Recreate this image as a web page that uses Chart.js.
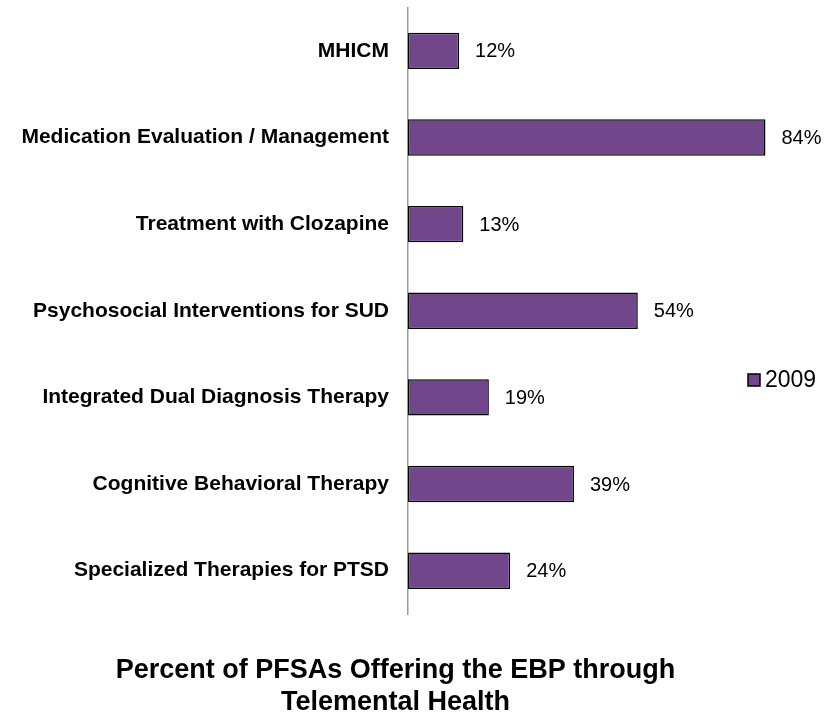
<!DOCTYPE html>
<html>
<head>
<meta charset="utf-8">
<script src="https://cdn.jsdelivr.net/npm/chart.js@4"></script>
<style>
  html, body { margin: 0; padding: 0; background: #fff; }
  #wrap { width: 824px; height: 719px; }
</style>
</head>
<body>
<div id="wrap"><canvas id="bar-chart" width="824" height="719"></canvas></div>
<script>
// data
const categories = [
    'MHICM',
    'Medication Evaluation / Management',
    'Treatment with Clozapine',
    'Psychosocial Interventions for SUD',
    'Integrated Dual Diagnosis Therapy',
    'Cognitive Behavioral Therapy',
    'Specialized Therapies for PTSD'
];
const values2009 = [12, 84, 13, 54, 19, 39, 24];
const seriesName = '2009';
const titleLines = ['Percent of PFSAs Offering the EBP through', 'Telemental Health'];

const barColor = '#71468b';
const fontFamily = '"Liberation Sans", Arial, sans-serif';

// value labels to the right of each bar
const valueLabels = {
    id: 'valueLabels',
    afterDatasetsDraw(chart) {
        const ctx = chart.ctx;
        const meta = chart.getDatasetMeta(0);
        ctx.save();
        ctx.font = '20px ' + fontFamily;
        ctx.fillStyle = '#000';
        ctx.textAlign = 'left';
        ctx.textBaseline = 'middle';
        meta.data.forEach((bar, i) => {
            ctx.fillText(values2009[i] + '%', bar.x + 16, bar.y + 1);
        });
        ctx.restore();
    }
};

// legend drawn by hand so it can sit over the plot like the original
const sideLegend = {
    id: 'sideLegend',
    afterDraw(chart) {
        const ctx = chart.ctx;
        const x = 748, y = 380;
        ctx.save();
        ctx.fillStyle = barColor;
        ctx.strokeStyle = '#000';
        ctx.lineWidth = 1.5;
        ctx.fillRect(x, y - 6, 12, 12);
        ctx.strokeRect(x, y - 6, 12, 12);
        ctx.fillStyle = '#000';
        ctx.font = '23px ' + fontFamily;
        ctx.textBaseline = 'middle';
        ctx.fillText(chart.data.datasets[0].label, x + 17, y + 1);
        ctx.restore();
    }
};

const barCtx = document.getElementById('bar-chart').getContext('2d');

new Chart(barCtx, {
    type: 'bar',
    data: {
        labels: categories,
        datasets: [{
            label: seriesName,
            data: values2009,
            backgroundColor: barColor,
            borderColor: '#000',
            borderWidth: 1.5,
            borderSkipped: false,
            barPercentage: 0.84,
            categoryPercentage: 0.5
        }]
    },
    options: {
        indexAxis: 'y',
        responsive: false,
        animation: false,
        layout: { padding: { top: 7.5, right: 33, left: 0, bottom: 0 } },
        scales: {
            x: {
                display: false,
                min: 0,
                max: 90
            },
            y: {
                grid: { display: false, drawTicks: false },
                border: { display: true, color: '#9a9a9a', width: 1.5 },
                ticks: {
                    color: '#000',
                    padding: 19,
                    font: { family: fontFamily, size: 21, weight: 'bold' }
                },
                afterFit(scale) {
                    scale.width = 408;
                    scale.paddingTop = 0;
                    scale.paddingBottom = 0;
                }
            }
        },
        plugins: {
            legend: { display: false },
            tooltip: { enabled: false },
            title: {
                display: true,
                position: 'bottom',
                text: titleLines,
                color: '#000',
                font: { family: fontFamily, size: 27, weight: 'bold', lineHeight: 1.185 },
                padding: { top: 41, bottom: 0 }
            }
        }
    },
    plugins: [valueLabels, sideLegend]
});
</script>
</body>
</html>
